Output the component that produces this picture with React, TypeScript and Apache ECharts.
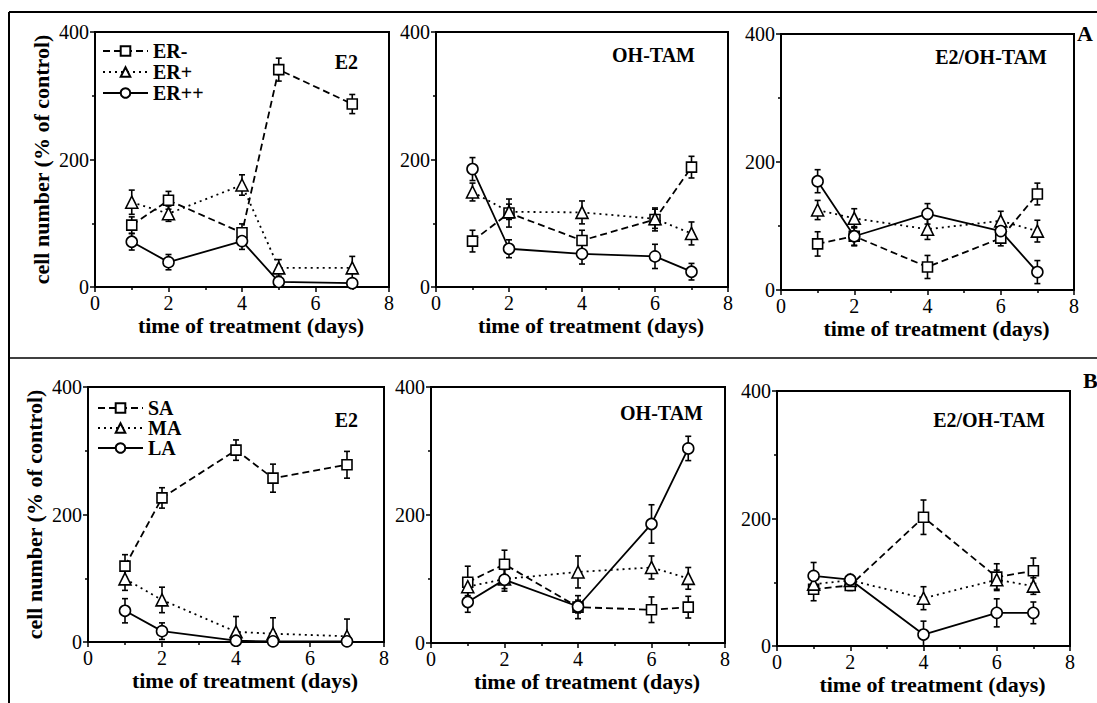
import React, { useEffect, useRef } from "react";
import * as echarts from "echarts";

// ---------- data ----------
const X_TICKS = [0, 2, 4, 6, 8];
const Y_TICKS = [0, 200, 400];

const ER_NAMES = ["ER-", "ER+", "ER++"];
const AGG_NAMES = ["SA", "MA", "LA"];
const PANEL_TITLES = ["E2", "OH-TAM", "E2/OH-TAM"];

const DAYS_E2 = [1, 2, 4, 5, 7];
const DAYS = [1, 2, 4, 6, 7];

// Row A, E2
const A_E2_ERneg = [97, 136, 85, 341, 287];
const A_E2_ERneg_sd = [13, 14, 14, 18, 15];
const A_E2_ERpos = [133, 115, 160, 30, 30];
const A_E2_ERpos_sd = [19, 12, 16, 13, 18];
const A_E2_ERpp = [71, 39, 72, 8, 6];
const A_E2_ERpp_sd = [13, 12, 13, 4, 3];

// Row A, OH-TAM
const A_TAM_ERneg = [72, 116, 73, 106, 188];
const A_TAM_ERneg_sd = [17, 22, 16, 18, 17];
const A_TAM_ERpos = [149, 118, 117, 107, 84];
const A_TAM_ERpos_sd = [14, 12, 18, 15, 18];
const A_TAM_ERpp = [185, 60, 52, 48, 24];
const A_TAM_ERpp_sd = [18, 14, 16, 19, 13];

// Row A, E2/OH-TAM
const A_MIX_ERneg = [72, 84, 36, 81, 150];
const A_MIX_ERneg_sd = [19, 15, 18, 12, 17];
const A_MIX_ERpos = [125, 112, 95, 108, 92];
const A_MIX_ERpos_sd = [15, 15, 16, 15, 17];
const A_MIX_ERpp = [170, 84, 119, 92, 28];
const A_MIX_ERpp_sd = [18, 14, 16, 14, 18];

// Row B, E2
const B_E2_SA = [119, 226, 301, 257, 278];
const B_E2_SA_sd = [18, 16, 16, 22, 21];
const B_E2_MA = [99, 66, 16, 13, 9];
const B_E2_MA_sd = [18, 20, 24, 25, 27];
const B_E2_LA = [49, 17, 2, 1, 1];
const B_E2_LA_sd = [19, 13, 2, 2, 2];

// Row B, OH-TAM
const B_TAM_SA = [95, 123, 56, 52, 56];
const B_TAM_SA_sd = [25, 22, 18, 20, 17];
const B_TAM_MA = [88, 100, 111, 118, 101];
const B_TAM_MA_sd = [14, 15, 25, 18, 17];
const B_TAM_LA = [64, 99, 57, 186, 304];
const B_TAM_LA_sd = [16, 18, 10, 30, 19];

// Row B, E2/OH-TAM
const B_MIX_SA = [89, 95, 202, 108, 118];
const B_MIX_SA_sd = [18, 8, 27, 21, 20];
const B_MIX_MA = [97, 103, 75, 104, 94];
const B_MIX_MA_sd = [12, 8, 18, 15, 13];
const B_MIX_LA = [110, 104, 18, 52, 52];
const B_MIX_LA_sd = [21, 8, 21, 22, 17];

// ---------- layout / style ----------
const SERIF = "Liberation Serif";

type Panel = {
  grid: { left: number; top: number; width: number; height: number };
  days: number[];
  names: string[];
  values: number[][];
  sds: number[][];
  title: string;
  titleRight: number;
  titleTop: number;
  yName: boolean;
};

const PANELS: Panel[] = [
  {
    grid: { left: 95, top: 32, width: 294, height: 255 },
    days: DAYS_E2, names: ER_NAMES,
    values: [A_E2_ERneg, A_E2_ERpos, A_E2_ERpp],
    sds: [A_E2_ERneg_sd, A_E2_ERpos_sd, A_E2_ERpp_sd],
    title: PANEL_TITLES[0], titleRight: 739, titleTop: 52, yName: true,
  },
  {
    grid: { left: 436, top: 32, width: 292, height: 255 },
    days: DAYS, names: ER_NAMES,
    values: [A_TAM_ERneg, A_TAM_ERpos, A_TAM_ERpp],
    sds: [A_TAM_ERneg_sd, A_TAM_ERpos_sd, A_TAM_ERpp_sd],
    title: PANEL_TITLES[1], titleRight: 402, titleTop: 45, yName: false,
  },
  {
    grid: { left: 781, top: 34, width: 293, height: 256 },
    days: DAYS, names: ER_NAMES,
    values: [A_MIX_ERneg, A_MIX_ERpos, A_MIX_ERpp],
    sds: [A_MIX_ERneg_sd, A_MIX_ERpos_sd, A_MIX_ERpp_sd],
    title: PANEL_TITLES[2], titleRight: 50, titleTop: 47, yName: false,
  },
  {
    grid: { left: 88, top: 387, width: 296, height: 255 },
    days: DAYS_E2, names: AGG_NAMES,
    values: [B_E2_SA, B_E2_MA, B_E2_LA],
    sds: [B_E2_SA_sd, B_E2_MA_sd, B_E2_LA_sd],
    title: PANEL_TITLES[0], titleRight: 739, titleTop: 410, yName: true,
  },
  {
    grid: { left: 431, top: 387, width: 294, height: 256 },
    days: DAYS, names: AGG_NAMES,
    values: [B_TAM_SA, B_TAM_MA, B_TAM_LA],
    sds: [B_TAM_SA_sd, B_TAM_MA_sd, B_TAM_LA_sd],
    title: PANEL_TITLES[1], titleRight: 394, titleTop: 403, yName: false,
  },
  {
    grid: { left: 777, top: 391, width: 293, height: 255 },
    days: DAYS, names: AGG_NAMES,
    values: [B_MIX_SA, B_MIX_MA, B_MIX_LA],
    sds: [B_MIX_SA_sd, B_MIX_MA_sd, B_MIX_LA_sd],
    title: PANEL_TITLES[2], titleRight: 52, titleTop: 410, yName: false,
  },
];

const SYMBOLS = ["rect", "triangle", "circle"];
const SYMBOL_SIZES = [10, 12, 11];
const DASHES: any[] = [[7, 4], [2, 4], "solid"];

function errorRender(params: any, api: any) {
  const x = api.value(0);
  const y = api.value(1);
  const e = api.value(2);
  const top = api.coord([x, y + e]);
  const lowVal = y - e;
  const bot = api.coord([x, Math.max(0, lowVal)]);
  const cap = 3;
  const style = { stroke: "#000", lineWidth: 1.6 };
  const children: any[] = [
    { type: "line", shape: { x1: top[0], y1: top[1], x2: bot[0], y2: bot[1] }, style },
    { type: "line", shape: { x1: top[0] - cap, y1: top[1], x2: top[0] + cap, y2: top[1] }, style },
  ];
  if (lowVal > 0) {
    children.push({ type: "line", shape: { x1: bot[0] - cap, y1: bot[1], x2: bot[0] + cap, y2: bot[1] }, style });
  }
  return { type: "group", children };
}

function buildOption() {
  const grids: any[] = [];
  const xAxes: any[] = [];
  const yAxes: any[] = [];
  const series: any[] = [];
  const graphics: any[] = [];

  PANELS.forEach((p, i) => {
    grids.push({
      ...p.grid,
      show: true,
      borderColor: "#000",
      borderWidth: 2,
      backgroundColor: "transparent",
      containLabel: false,
      outerBoundsMode: "none",
    });
    xAxes.push({
      type: "value",
      gridIndex: i,
      min: X_TICKS[0],
      max: X_TICKS[X_TICKS.length - 1],
      interval: X_TICKS[1] - X_TICKS[0],
      name: "time of treatment (days)",
      nameLocation: "middle",
      nameGap: 27,
      nameTextStyle: {
        fontFamily: SERIF, fontWeight: "bold", fontSize: 22, color: "#000",
        padding: [0, 0, 0, 18],
      },
      axisLine: { show: true, lineStyle: { color: "#000", width: 2 } },
      axisTick: { show: true, length: 5, lineStyle: { color: "#000", width: 1.5 } },
      minorTick: { show: true, splitNumber: 2, length: 3, lineStyle: { color: "#000", width: 1.5 } },
      splitLine: { show: false },
      axisLabel: { fontFamily: SERIF, fontSize: 20, color: "#000", margin: 6 },
    });
    yAxes.push({
      type: "value",
      gridIndex: i,
      min: Y_TICKS[0],
      max: Y_TICKS[Y_TICKS.length - 1],
      interval: Y_TICKS[1] - Y_TICKS[0],
      name: p.yName ? "cell number (% of control)" : "",
      nameLocation: "middle",
      nameRotate: 90,
      nameGap: 43,
      nameTextStyle: { fontFamily: SERIF, fontWeight: "bold", fontSize: 22, color: "#000" },
      axisLine: { show: true, lineStyle: { color: "#000", width: 2 } },
      axisTick: { show: true, length: 5, lineStyle: { color: "#000", width: 1.5 } },
      minorTick: { show: true, splitNumber: 2, length: 3, lineStyle: { color: "#000", width: 1.5 } },
      splitLine: { show: false },
      axisLabel: { fontFamily: SERIF, fontSize: 20, color: "#000", margin: 6 },
    });

    p.names.forEach((name, k) => {
      const data = p.days.map((d, j) => [d, p.values[k][j], p.sds[k][j]]);
      series.push({
        type: "custom",
        name: name + " SD",
        xAxisIndex: i,
        yAxisIndex: i,
        data,
        renderItem: errorRender,
        encode: { x: 0, y: 1 },
        clip: true,
        silent: true,
        z: 2,
      });
    });
    p.names.forEach((name, k) => {
      series.push({
        type: "line",
        name,
        xAxisIndex: i,
        yAxisIndex: i,
        data: p.days.map((d, j) => [d, p.values[k][j]]),
        symbol: SYMBOLS[k],
        symbolSize: SYMBOL_SIZES[k],
        showAllSymbol: true,
        lineStyle: { color: "#000", width: 1.8, type: DASHES[k] },
        itemStyle: { color: "#fff", borderColor: "#000", borderWidth: 1.6 },
        emphasis: { disabled: true },
        z: 3,
      });
    });

    graphics.push({
      type: "text",
      right: p.titleRight,
      top: p.titleTop,
      style: { text: p.title, font: `bold 20px ${SERIF}`, fill: "#000" },
    });
  });

  // frame lines and row letters
  graphics.push(
    { type: "line", shape: { x1: 9, y1: 12, x2: 1097, y2: 12 }, style: { stroke: "#000", lineWidth: 2 } },
    { type: "line", shape: { x1: 9, y1: 358, x2: 1097, y2: 358 }, style: { stroke: "#000", lineWidth: 1.5 } },
    { type: "line", shape: { x1: 9, y1: 12, x2: 9, y2: 703 }, style: { stroke: "#000", lineWidth: 2 } },
    { type: "text", left: 1077, top: 22, style: { text: "A", font: `bold 22px ${SERIF}`, fill: "#000" } },
    { type: "text", left: 1083, top: 369, style: { text: "B", font: `bold 22px ${SERIF}`, fill: "#000" } }
  );

  const legendBase = {
    orient: "vertical",
    itemWidth: 45,
    itemHeight: 12,
    itemGap: 1,
    selectedMode: false,
    textStyle: { fontFamily: SERIF, fontWeight: "bold", fontSize: 20, color: "#000", lineHeight: 20 },
  };

  return {
    animation: false,
    backgroundColor: "#fff",
    grid: grids,
    xAxis: xAxes,
    yAxis: yAxes,
    series,
    legend: [
      { ...legendBase, data: ER_NAMES, left: 97, top: 36 },
      { ...legendBase, data: AGG_NAMES, left: 92, top: 393, itemGap: 0 },
    ],
    graphic: graphics,
  };
}

export default function App() {
  const ref = useRef<HTMLDivElement>(null);
  useEffect(() => {
    if (!ref.current) return;
    const chart = echarts.init(ref.current, undefined, { renderer: "svg" });
    chart.setOption(buildOption() as any);
    return () => chart.dispose();
  }, []);
  return (
    <div
      ref={ref}
      style={{ position: "absolute", left: 0, top: 0, width: 1097, height: 703 }}
    />
  );
}
